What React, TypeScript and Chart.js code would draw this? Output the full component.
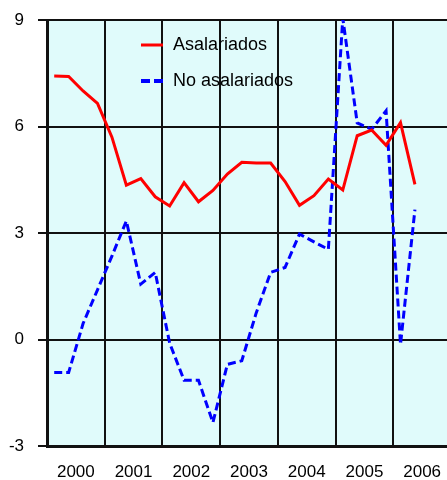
import React, { useEffect, useRef } from "react";
import { Chart, registerables } from "chart.js";

Chart.register(...registerables);

const years = ["2000", "2001", "2002", "2003", "2004", "2005", "2006"];
const seriesNames = ["Asalariados", "No asalariados"];
const asalariados = [
  7.42, 7.41, 7.0, 6.65, 5.7, 4.35, 4.53, 4.02, 3.76, 4.42, 3.88, 4.2, 4.66,
  4.99, 4.97, 4.97, 4.45, 3.78, 4.05, 4.52, 4.21, 5.74, 5.9, 5.47, 6.11, 4.37,
];
const noAsalariados = [
  -0.93, -0.93, 0.45, 1.4, 2.35, 3.34, 1.56, 1.89, -0.1, -1.15, -1.15, -2.34,
  -0.7, -0.6, 0.75, 1.89, 2.03, 2.97, 2.75, 2.54, 9.05, 6.1, 5.92, 6.44, -0.14,
  3.66,
];
const yMin = -3;
const yMax = 9;
const yStep = 3;

const FONT = "'Liberation Sans', Arial, Helvetica, sans-serif";
const RED = "#ff0000";
const BLUE = "#0000ff";

const bgPlugin = {
  id: "plotBg",
  beforeDraw(chart: any) {
    const { ctx, chartArea } = chart;
    const { left, top, right, bottom } = chartArea;
    ctx.save();
    ctx.fillStyle = "#e0fbfb";
    ctx.fillRect(left, top, right - left, bottom - top);
    ctx.restore();
  },
};

const legendPlugin = {
  id: "inLegend",
  afterDraw(chart: any) {
    const { ctx, chartArea } = chart;
    const x0 = chartArea.left + 94;
    const items = [
      { label: seriesNames[0], color: RED, dash: [] as number[], dy: 25, w: 3 },
      { label: seriesNames[1], color: BLUE, dash: [9, 4], dy: 61, w: 4 },
    ];
    ctx.save();
    items.forEach((it) => {
      const y = chartArea.top + it.dy;
      ctx.beginPath();
      ctx.setLineDash(it.dash);
      ctx.strokeStyle = it.color;
      ctx.lineWidth = it.w;
      ctx.moveTo(x0, y);
      ctx.lineTo(x0 + 22, y);
      ctx.stroke();
      ctx.setLineDash([]);
      ctx.fillStyle = "#000";
      ctx.font = `18px ${FONT}`;
      ctx.textBaseline = "middle";
      ctx.textAlign = "left";
      ctx.fillText(it.label, x0 + 32, y);
    });
    ctx.restore();
  },
};

export default function App() {
  const ref = useRef<HTMLCanvasElement | null>(null);

  useEffect(() => {
    if (!ref.current) return;
    const toPts = (arr: number[]) => arr.map((v, i) => ({ x: i + 0.5, y: v }));
    const chart = new Chart(ref.current, {
      type: "line",
      data: {
        datasets: [
          {
            label: seriesNames[0],
            data: toPts(asalariados),
            borderColor: RED,
            borderWidth: 3,
            pointRadius: 0,
            tension: 0,
            fill: false,
          },
          {
            label: seriesNames[1],
            data: toPts(noAsalariados),
            borderColor: BLUE,
            borderWidth: 3,
            borderDash: [8, 4],
            pointRadius: 0,
            tension: 0,
            fill: false,
          },
        ],
      },
      options: {
        animation: false,
        responsive: false,
        devicePixelRatio: 1,
        layout: { padding: { top: 20, right: 9, left: 0, bottom: 0 } },
        plugins: {
          legend: { display: false },
          tooltip: { enabled: false },
          title: { display: false },
        },
        scales: {
          x: {
            type: "linear",
            min: 0,
            max: years.length * 4,
            afterFit(scale: any) {
              scale.height = 34;
              scale.paddingLeft = 0;
              scale.paddingRight = 0;
            },
            ticks: {
              stepSize: 2,
              autoSkip: false,
              maxRotation: 0,
              padding: 16,
              color: "#000",
              font: { family: FONT, size: 17 },
              callback: (v: any) => {
                const n = Number(v);
                return n % 4 === 2 ? years[(n - 2) / 4] : "";
              },
            },
            grid: {
              drawTicks: false,
              lineWidth: 2,
              color: (c: any) =>
                c.tick && Number(c.tick.value) % 4 === 0 ? "#111" : "rgba(0,0,0,0)",
            },
            border: { display: true, color: "#111", width: 3 },
          },
          y: {
            type: "linear",
            min: yMin,
            max: yMax,
            afterFit(scale: any) {
              scale.width = 47;
              scale.paddingTop = 0;
              scale.paddingBottom = 0;
            },
            ticks: {
              stepSize: yStep,
              padding: 14,
              color: "#000",
              font: { family: FONT, size: 17 },
            },
            grid: {
              drawTicks: true,
              tickLength: 9,
              lineWidth: 2,
              color: "#111",
              tickColor: "#111",
            },
            border: { display: true, color: "#111", width: 3 },
          },
        },
      },
      plugins: [bgPlugin, legendPlugin],
    });
    return () => chart.destroy();
  }, []);

  return (
    <div
      style={{
        position: "absolute",
        left: 0,
        top: 0,
        width: 447,
        height: 480,
        overflow: "hidden",
        background: "#fff",
      }}
    >
      <canvas ref={ref} width={460} height={480} style={{ display: "block" }} />
    </div>
  );
}
